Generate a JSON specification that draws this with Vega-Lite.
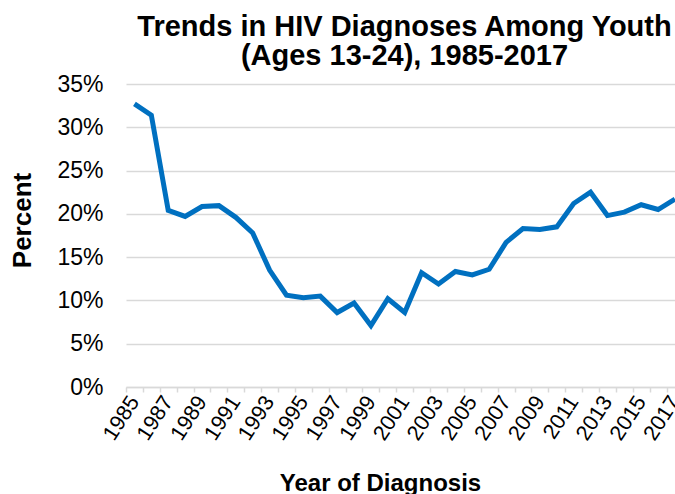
{
  "$schema": "https://vega.github.io/schema/vega-lite/v6.json",
  "autosize": {"type": "none"},
  "padding": {"left": 126, "top": 84, "right": 0, "bottom": 107},
  "width": 549,
  "height": 303,
  "background": "white",
  "title": {
    "text": ["Trends in HIV Diagnoses Among Youth", "(Ages 13-24), 1985-2017"],
    "font": "Liberation Sans",
    "fontSize": 29,
    "fontWeight": "bold",
    "color": "black",
    "lineHeight": 29,
    "anchor": "middle",
    "dx": 4,
    "offset": 2
  },
  "config": {"view": {"stroke": null}},
  "data": {
    "values": [
      {"year": 1985, "percent": 32.7},
      {"year": 1986, "percent": 31.4},
      {"year": 1987, "percent": 20.4},
      {"year": 1988, "percent": 19.7},
      {"year": 1989, "percent": 20.85},
      {"year": 1990, "percent": 20.95},
      {"year": 1991, "percent": 19.6},
      {"year": 1992, "percent": 17.8},
      {"year": 1993, "percent": 13.5},
      {"year": 1994, "percent": 10.6},
      {"year": 1995, "percent": 10.3},
      {"year": 1996, "percent": 10.5},
      {"year": 1997, "percent": 8.6},
      {"year": 1998, "percent": 9.7},
      {"year": 1999, "percent": 7.1},
      {"year": 2000, "percent": 10.2},
      {"year": 2001, "percent": 8.6},
      {"year": 2002, "percent": 13.2},
      {"year": 2003, "percent": 11.9},
      {"year": 2004, "percent": 13.35},
      {"year": 2005, "percent": 12.95},
      {"year": 2006, "percent": 13.6},
      {"year": 2007, "percent": 16.7},
      {"year": 2008, "percent": 18.3},
      {"year": 2009, "percent": 18.2},
      {"year": 2010, "percent": 18.5},
      {"year": 2011, "percent": 21.2},
      {"year": 2012, "percent": 22.5},
      {"year": 2013, "percent": 19.8},
      {"year": 2014, "percent": 20.2},
      {"year": 2015, "percent": 21.05},
      {"year": 2016, "percent": 20.5},
      {"year": 2017, "percent": 21.7}
    ]
  },
  "mark": {"type": "line", "color": "#0070C0", "strokeWidth": 5},
  "encoding": {
    "x": {
      "field": "year",
      "type": "quantitative",
      "scale": {"domain": [1984.5, 2017], "nice": false, "zero": false},
      "axis": {
        "title": "Year of Diagnosis",
        "titleFont": "Liberation Sans",
        "titleFontSize": 24,
        "titleFontWeight": "bold",
        "titleColor": "black",
        "titleX": 254,
        "titleY": 103,
        "titleAlign": "center",
        "titleBaseline": "alphabetic",
        "values": [1984.5, 1985.5, 1986.5, 1987.5, 1988.5, 1989.5, 1990.5, 1991.5, 1992.5, 1993.5, 1994.5, 1995.5, 1996.5, 1997.5, 1998.5, 1999.5, 2000.5, 2001.5, 2002.5, 2003.5, 2004.5, 2005.5, 2006.5, 2007.5, 2008.5, 2009.5, 2010.5, 2011.5, 2012.5, 2013.5, 2014.5, 2015.5, 2016.5],
        "labelExpr": "(datum.value - 1984.5) % 2 == 0 ? format(datum.value + 0.5, 'd') : ''",
        "labelOffset": 8.45,
        "labelAngle": -57,
        "labelFont": "Liberation Sans",
        "labelFontSize": 21.5,
        "labelColor": "black",
        "labelOverlap": false,
        "labelFlush": false,
        "labelPadding": 6,
        "grid": false,
        "domainColor": "#D9D9D9",
        "domainWidth": 1.5,
        "tickColor": "#D9D9D9",
        "tickWidth": 1.5,
        "tickSize": 5
      }
    },
    "y": {
      "field": "percent",
      "type": "quantitative",
      "scale": {"domain": [0, 35], "nice": false},
      "axis": {
        "title": "Percent",
        "titleFont": "Liberation Sans",
        "titleFontSize": 26,
        "titleFontWeight": "bold",
        "titleColor": "black",
        "titleX": -104,
        "titleY": 136,
        "titleAlign": "center",
        "titleBaseline": "middle",
        "values": [0, 5, 10, 15, 20, 25, 30, 35],
        "labelExpr": "datum.value + '%'",
        "labelFont": "Liberation Sans",
        "labelFontSize": 23,
        "labelColor": "black",
        "labelPadding": 23,
        "ticks": false,
        "domain": false,
        "grid": true,
        "gridColor": "#D9D9D9",
        "gridWidth": 1.5
      }
    }
  }
}
